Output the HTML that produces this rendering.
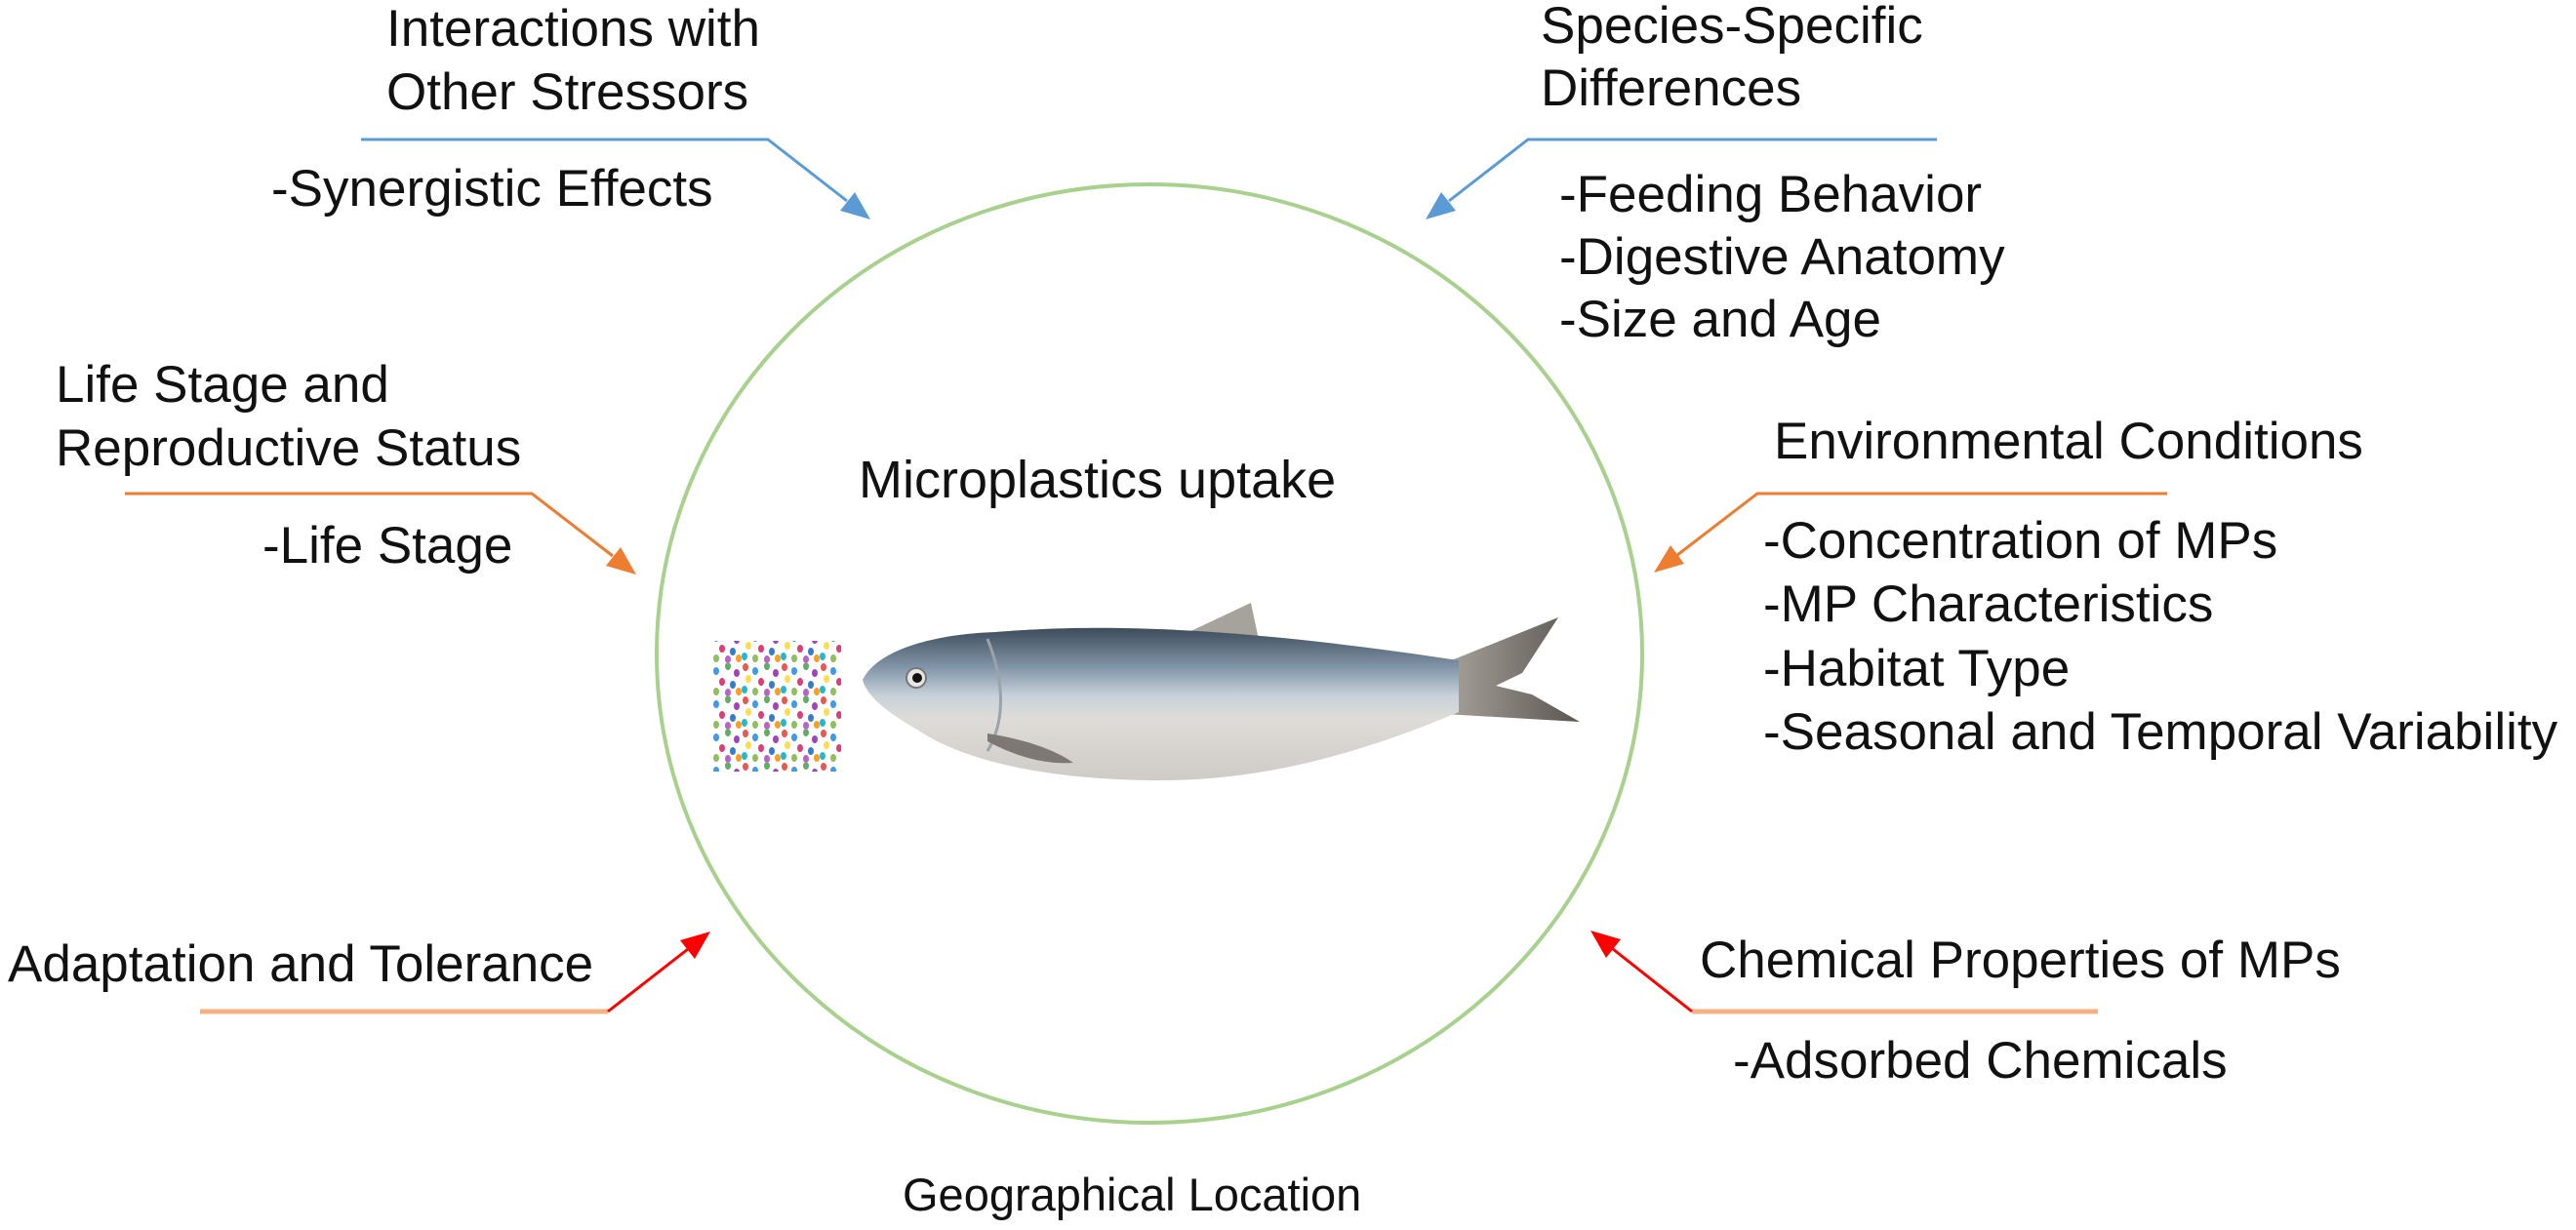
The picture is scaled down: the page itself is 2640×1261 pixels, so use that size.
<!DOCTYPE html>
<html><head><meta charset="utf-8"><style>
html,body{margin:0;padding:0;background:#fff;}
svg{display:block;}
text{font-family:"Liberation Sans",Arial,sans-serif;fill:#111;font-size:53px;}
</style></head><body>
<svg width="2640" height="1261" viewBox="0 0 2640 1261" xmlns="http://www.w3.org/2000/svg">
<defs>
<linearGradient id="body" x1="0" y1="0" x2="0" y2="1">
<stop offset="0" stop-color="#3d4b5a"/>
<stop offset="0.25" stop-color="#7f93a6"/>
<stop offset="0.45" stop-color="#c9d2da"/>
<stop offset="0.6" stop-color="#dedcd8"/>
<stop offset="1" stop-color="#cfcbc6"/>
</linearGradient>
<linearGradient id="tail" x1="0" y1="0" x2="1" y2="0">
<stop offset="0" stop-color="#a8a39c"/><stop offset="1" stop-color="#5a5550"/>
</linearGradient>
<pattern id="mp" width="40" height="34" patternUnits="userSpaceOnUse">
<ellipse cx="4" cy="4" rx="3" ry="4" fill="#e53935"/>
<ellipse cx="14" cy="8" rx="3" ry="4" fill="#1e88e5"/>
<ellipse cx="26" cy="3" rx="3" ry="4" fill="#43a047"/>
<ellipse cx="35" cy="10" rx="3" ry="4" fill="#8e24aa"/>
<ellipse cx="7" cy="16" rx="3" ry="4" fill="#fdd835"/>
<ellipse cx="20" cy="19" rx="3" ry="4" fill="#d81b60"/>
<ellipse cx="31" cy="22" rx="3" ry="4" fill="#1565c0"/>
<ellipse cx="3" cy="27" rx="3" ry="4" fill="#00acc1"/>
<ellipse cx="14" cy="29" rx="3" ry="4" fill="#7cb342"/>
<ellipse cx="26" cy="30" rx="3" ry="4" fill="#ab47bc"/>
<ellipse cx="37" cy="29" rx="3" ry="4" fill="#fb8c00"/>
</pattern>
</defs>

<ellipse cx="1178" cy="670" rx="505" ry="481" fill="none" stroke="#a9d18e" stroke-width="4"/>

<g fill="none" stroke-width="3">
<polyline points="370,143 787,143 868,206" stroke="#5b9bd5"/>
<polyline points="1985,143 1566,143 1485,206" stroke="#5b9bd5"/>
<polyline points="128,506 545,506 628,570" stroke="#ed7d31"/>
<polyline points="2221,506 1801,506 1719,569" stroke="#ed7d31"/>
<polyline points="205,1037 623,1037" stroke="#f4b183" stroke-width="5"/>
<polyline points="623,1037 705,973" stroke="#ff0000"/>
<polyline points="2150,1037 1734,1037" stroke="#f4b183" stroke-width="5"/>
<polyline points="1734,1037 1653,973" stroke="#ff0000"/>
</g>
<g stroke="none">
<polygon points="892,225 861,216 876,197" fill="#5b9bd5"/>
<polygon points="1461,225 1492,216 1477,197" fill="#5b9bd5"/>
<polygon points="652,589 621,580 636,561" fill="#ed7d31"/>
<polygon points="1695,587 1726,578 1712,559" fill="#ed7d31"/>
<polygon points="728,955 697,964 712,983" fill="#ff0000"/>
<polygon points="1630,954 1661,963 1646,982" fill="#ff0000"/>
</g>

<rect x="730" y="657" width="132" height="134" fill="url(#mp)" opacity="0.85"/>

<path d="M1214,650 L1282,618 L1290,656 Z" fill="#a6a29c"/>
<path d="M1480,680 L1597,633 L1560,690 L1533,703 L1570,712 L1619,740 L1480,732 Z" fill="url(#tail)"/>
<path d="M884,697 C900,665 960,650 1020,648 C1120,640 1250,640 1495,677 L1495,730 C1400,770 1300,800 1190,800 C1080,800 990,782 940,748 C905,728 888,712 884,697 Z" fill="url(#body)"/>
<path d="M1012,655 C1030,700 1030,740 1012,770" fill="none" stroke="#9aa3ab" stroke-width="3"/>
<path d="M1012,752 C1050,758 1080,768 1100,782 C1070,784 1040,775 1012,760 Z" fill="#7d7873"/>
<circle cx="939" cy="695" r="10" fill="#e8e6e2" stroke="#777" stroke-width="2"/>
<circle cx="940" cy="695" r="5" fill="#111"/>

<text x="396" y="47">Interactions with</text>
<text x="396" y="112">Other Stressors</text>
<text x="278" y="211">-Synergistic Effects</text>

<text x="1579" y="44">Species-Specific</text>
<text x="1579" y="108">Differences</text>
<text x="1598" y="217">-Feeding Behavior</text>
<text x="1598" y="281">-Digestive Anatomy</text>
<text x="1598" y="345">-Size and Age</text>

<text x="57" y="412">Life Stage and</text>
<text x="57" y="477">Reproductive Status</text>
<text x="269" y="577">-Life Stage</text>

<text x="880" y="510" style="font-size:54px">Microplastics uptake</text>

<text x="1818" y="470">Environmental Conditions</text>
<text x="1807" y="572">-Concentration of MPs</text>
<text x="1807" y="637">-MP Characteristics</text>
<text x="1807" y="703">-Habitat Type</text>
<text x="1807" y="768">-Seasonal and Temporal Variability</text>

<text x="8" y="1006">Adaptation and Tolerance</text>
<text x="1742" y="1002">Chemical Properties of MPs</text>
<text x="1776" y="1105">-Adsorbed Chemicals</text>

<text x="925" y="1241" style="font-size:47px">Geographical Location</text>
</svg>
</body></html>
